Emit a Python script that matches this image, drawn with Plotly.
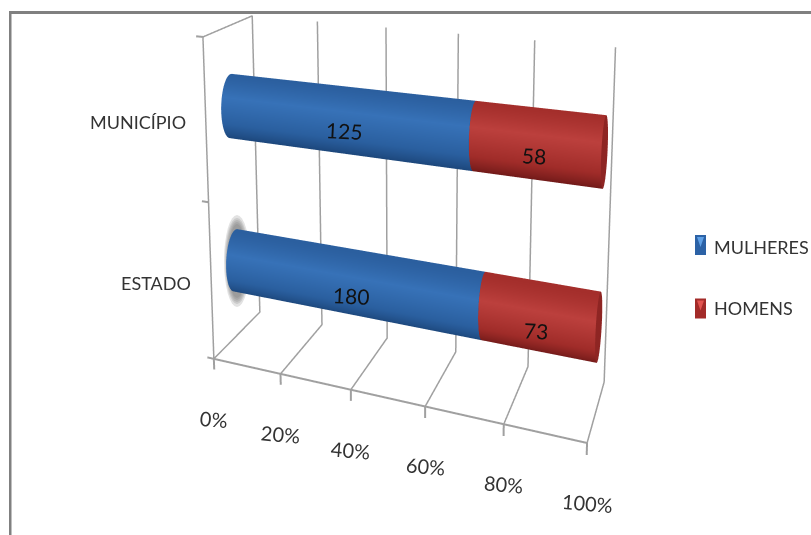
import numpy as np
import plotly.graph_objects as go

categories = ["ESTADO", "MUNICÍPIO"]
mulheres = [180, 125]
homens = [73, 58]
tick_values = [0, 20, 40, 60, 80, 100]
tick_labels = ["0%", "20%", "40%", "60%", "80%", "100%"]

W, H = 811, 535
FONT = "Lato"
TEXT = "#333333"
GRID = "#a0a0a0"

# Plot box: x is the percentage, y the depth (0 front, 1 back), z the category height.
X_RANGE = (-8.0, 104.0)
Y_RANGE = (-2.0, 4.0)
Z_RANGE = (-2.0, 3.0)
ASPECT = dict(x=1.7108, y=1.8442, z=6.7690)
EYE = dict(x=1.2784, y=-2.3543, z=0.0216)
CENTER = dict(x=0.0781, y=-0.0617, z=-0.2604)
SKEW = (1.1618, -0.0064, -0.1663, 0.1160)

BAR_RADIUS_Y, BAR_RADIUS_Z = 0.2, 0.1
CATEGORY_Z = [0.25, 0.75]
BLUE = [[0, "#1b4477"], [0.3, "#2a5f9f"], [0.72, "#3772b8"], [1, "#2b5f9f"]]
RED = [[0, "#6c1817"], [0.3, "#a02c29"], [0.72, "#bc403d"], [1, "#a42e2b"]]


def skew(x, y, z):
    """Oblique box projection: depth and height lean with the percentage axis."""
    return x, y + SKEW[0] * x / 100 + SKEW[1] * z, z + SKEW[2] * x / 100 + SKEW[3] * y


fig = go.Figure()
FLAT = dict(ambient=1, diffuse=0, specular=0, fresnel=0, roughness=1)


def add_cylinder(x0, x1, zc, colors, name):
    """One stacked segment: a shaded tube plus the disc that closes its far end."""
    style = dict(colorscale=colors, cmin=-1, cmax=1, showscale=False,
                 hoverinfo="skip", lighting=FLAT, name=name)
    theta = np.linspace(0, 2 * np.pi, 73)
    xx, tt = np.meshgrid([x0, x1], theta)
    a, b, c = skew(xx, 0.5 + BAR_RADIUS_Y * np.cos(tt), zc + BAR_RADIUS_Z * np.sin(tt))
    fig.add_trace(go.Surface(x=a, y=b, z=c, surfacecolor=np.sin(tt), **style))
    rr, tt = np.meshgrid([0, 1], theta)
    a, b, c = skew(np.full(rr.shape, x1),
                   0.5 + BAR_RADIUS_Y * rr * np.cos(tt),
                   zc + BAR_RADIUS_Z * rr * np.sin(tt))
    fig.add_trace(go.Surface(x=a, y=b, z=c, surfacecolor=np.full(rr.shape, -0.6), **style))


def add_lines(xs, ys, zs, width):
    a, b, c = skew(*[np.array(v, dtype=float) for v in (xs, ys, zs)])
    fig.add_trace(go.Scatter3d(x=a, y=b, z=c, mode="lines", hoverinfo="skip",
                               line=dict(color=GRID, width=width)))


scene_notes = []


def note(x, y, z, **kw):
    a, b, c = skew(x, y, z)
    scene_notes.append(dict(x=a, y=b, z=c, showarrow=False, **kw))


# Stacked bars, each pair scaled to 100 percent, with the counts written on them.
for m, h, zc in zip(mulheres, homens, CATEGORY_Z):
    split = m / (m + h) * 100
    add_cylinder(0, split, zc, BLUE, "MULHERES")
    add_cylinder(split, 100, zc, RED, "HOMENS")
    note(split / 2, 0.3, zc, text=str(m), xshift=5, yshift=-4, textangle=3,
         font=dict(family=FONT, size=21, color="#111111"))
    note(split + (100 - split) / 2, 0.3, zc, text=str(h), xshift=1, yshift=-4, textangle=3,
         font=dict(family=FONT, size=21, color="#111111"))

# Floor and back wall gridlines, left wall outline.
gap = np.nan
xs, ys, zs = [], [], []
for v in tick_values:
    xs += [v, v, v, gap]
    ys += [0, 1, 1, gap]
    zs += [0, 0, 1, gap]
xs += [0, 0, 0, 0, 0]
ys += [0, 0, 1, 1, 0]
zs += [0, 1, 1, 0, 0]
add_lines(xs, ys, zs, 3)

# Front axis line and tick marks on both axes.
xs, ys, zs = [0, 100, gap], [0, 0, gap], [0, 0, gap]
for v in tick_values:
    xs += [v, v, gap]
    ys += [0, 0, gap]
    zs += [0, -0.035, gap]
for z in (0, 0.5, 1):
    xs += [0, -2, gap]
    ys += [0, 0, gap]
    zs += [z, z, gap]
add_lines(xs, ys, zs, 4)

for v, label in zip(tick_values, tick_labels):
    note(v, 0, 0, text=label, yshift=-60, textangle=5,
         font=dict(family=FONT, size=20, color=TEXT))
for name, zc in zip(categories, CATEGORY_Z):
    note(0, 0, zc, text=name, xanchor="right", xshift=-18, yshift=-1,
         font=dict(family=FONT, size=18, color=TEXT))


def paper_rect(x0, x1, y0, y1, color, **kw):
    return dict(type="rect", xref="paper", yref="paper", x0=x0 / W, x1=x1 / W,
                y0=1 - y1 / H, y1=1 - y0 / H, fillcolor=color, line_width=0, **kw)


# Frame along the top and left edges.
shapes = [paper_rect(9, 811, 11, 14, "#808080"), paper_rect(9, 11.5, 11, 535, "#808080")]

# Soft grey glow behind the near end of the lower bar.
for rx, ry in [(13, 46), (12, 43), (11, 41), (10, 39), (9, 37)]:
    shapes.append(dict(type="circle", xref="paper", yref="paper", layer="below",
                       x0=(237 - rx) / W, x1=(237 + rx) / W,
                       y0=1 - (261 + ry) / H, y1=1 - (261 - ry) / H,
                       fillcolor="#707070", opacity=0.2, line_width=0))

# Legend keys.
legend_items = [("MULHERES", 247, 245, "#2c62a6", "#5fa0e6"),
                ("HOMENS", 308, 308.5, "#a32b29", "#e25450")]
legend_notes = []
for name, text_y, key_y, base, light in legend_items:
    legend_notes.append(dict(xref="paper", yref="paper", x=712 / W, y=1 - text_y / H,
                             xanchor="left", showarrow=False, text=name,
                             font=dict(family=FONT, size=18, color=TEXT)))
    shapes.append(paper_rect(695, 706, key_y - 10, key_y + 10, base))
    shapes.append(dict(type="path", xref="paper", yref="paper", fillcolor=light, line_width=0,
                       path=f"M{697 / W},{1 - (key_y - 8) / H} L{704 / W},{1 - (key_y - 8) / H} "
                            f"L{700.5 / W},{1 - (key_y + 2) / H} Z"))

hidden = dict(visible=False)
fig.update_layout(
    width=W, height=H, margin=dict(l=0, r=0, t=0, b=0), showlegend=False,
    paper_bgcolor="white", annotations=legend_notes, shapes=shapes,
    scene=dict(
        domain=dict(x=[0, 1], y=[0, 1]), annotations=scene_notes,
        xaxis=dict(range=X_RANGE, **hidden),
        yaxis=dict(range=Y_RANGE, **hidden),
        zaxis=dict(range=Z_RANGE, **hidden),
        aspectmode="manual", aspectratio=ASPECT,
        camera=dict(eye=EYE, center=CENTER, up=dict(x=0, y=0, z=1)),
    ),
)
fig.write_html("out.html")
